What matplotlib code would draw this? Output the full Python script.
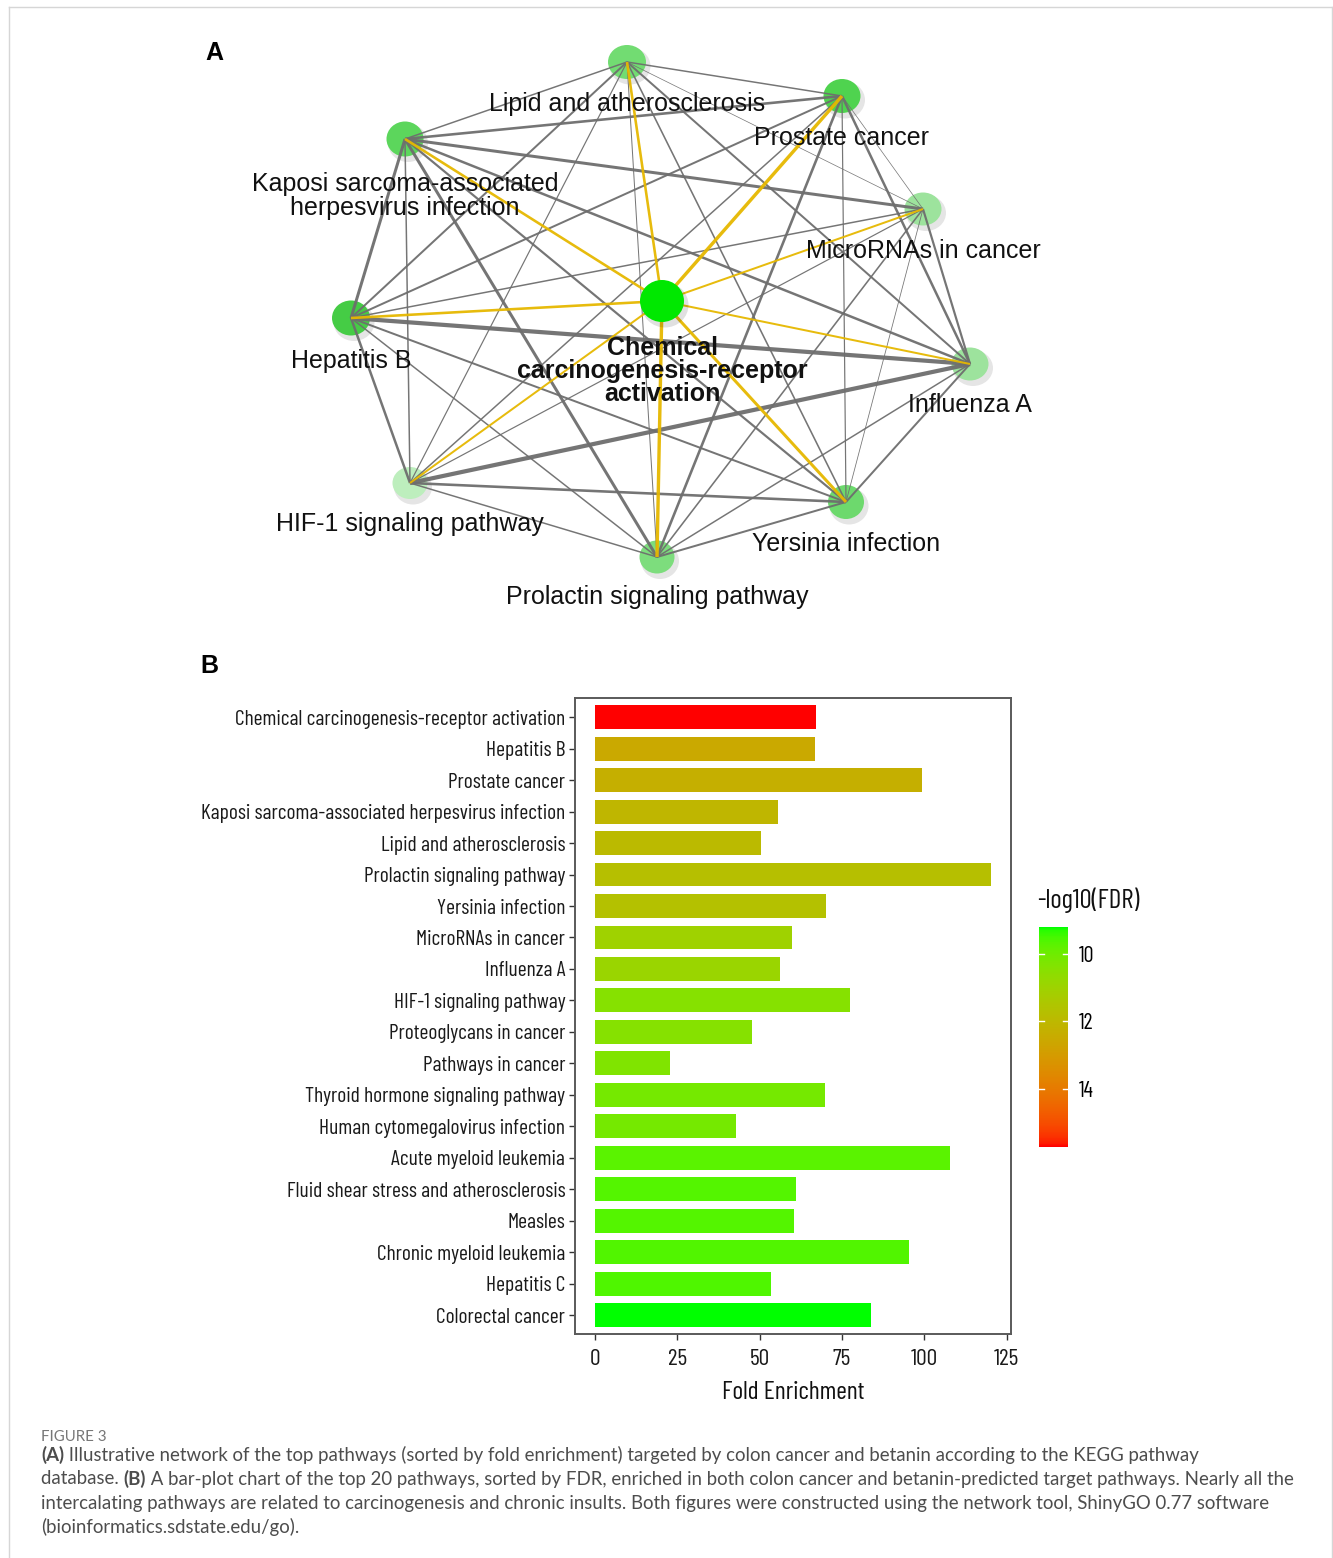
import numpy as np
import matplotlib
matplotlib.use("Agg")
import matplotlib.pyplot as plt
from matplotlib import font_manager as fm
from matplotlib.patches import Ellipse
from matplotlib.colors import ListedColormap, Normalize
from matplotlib.cm import ScalarMappable

# ---------------- data ----------------
pathways = [
    "Chemical carcinogenesis-receptor activation", "Hepatitis B", "Prostate cancer",
    "Kaposi sarcoma-associated herpesvirus infection", "Lipid and atherosclerosis",
    "Prolactin signaling pathway", "Yersinia infection", "MicroRNAs in cancer",
    "Influenza A", "HIF-1 signaling pathway", "Proteoglycans in cancer",
    "Pathways in cancer", "Thyroid hormone signaling pathway",
    "Human cytomegalovirus infection", "Acute myeloid leukemia",
    "Fluid shear stress and atherosclerosis", "Measles", "Chronic myeloid leukemia",
    "Hepatitis C", "Colorectal cancer",
]
fold_enrichment = [67.2, 66.8, 99.2, 55.7, 50.5, 120.2, 70.2, 59.8, 56.3, 77.3,
                   47.6, 22.7, 69.8, 42.8, 107.7, 61.0, 60.5, 95.2, 53.6, 83.9]
neg_log10_fdr = [15.71, 12.53, 12.33, 12.07, 11.94, 11.75, 11.68, 11.03, 10.90, 10.45,
                 10.44, 10.32, 10.12, 10.11, 9.73, 9.66, 9.65, 9.63, 9.60, 9.21]
x_ticks = [0, 25, 50, 75, 100, 125]
cbar_ticks = [10, 12, 14]

# network nodes (layout in figure pixels)
node_labels = ["Lipid and atherosclerosis", "Prostate cancer",
               "Kaposi sarcoma-associated\nherpesvirus infection", "MicroRNAs in cancer",
               "Chemical\ncarcinogenesis-receptor\nactivation", "Hepatitis B", "Influenza A",
               "HIF-1 signaling pathway", "Yersinia infection", "Prolactin signaling pathway"]
node_x = [627, 842, 405, 923, 662, 351, 970, 410, 846, 657]
node_y = [62, 96, 139, 209, 301, 318, 364, 483, 502, 557]
node_w = [38, 37, 37, 37, 44, 38, 37, 35, 36, 35]
node_h = [34, 34, 35, 33, 42, 35, 33, 32, 34, 33]
node_fill = ["#72DC72", "#4FD34F", "#5CD65C", "#9DE39D", "#00E800", "#45CC45",
             "#9DE39D", "#BDEEBD", "#6DD96D", "#7DDD7D"]
label_dy = [42, 42, 57, 42, 70, 43, 41, 41, 42, 40]
hub = 4
# edges: (node a, node b, width in px)
edges = [
    (0, 1, 1.5), (0, 2, 1.5), (0, 3, 0.7), (0, 5, 2.0), (0, 6, 2.0), (0, 7, 1.2),
    (0, 8, 1.6), (0, 9, 1.0), (1, 2, 2.6), (1, 3, 0.7), (1, 5, 2.0), (1, 6, 2.5),
    (1, 7, 1.5), (1, 8, 1.2), (1, 9, 2.6), (2, 3, 3.0), (2, 5, 3.0), (2, 6, 2.5),
    (2, 7, 1.5), (2, 8, 2.2), (2, 9, 3.0), (3, 5, 1.5), (3, 6, 2.2), (3, 7, 1.2),
    (3, 8, 0.8), (3, 9, 1.6), (5, 6, 4.2), (5, 7, 2.5), (5, 8, 2.0), (5, 9, 1.5),
    (6, 7, 4.2), (6, 8, 2.0), (6, 9, 1.5), (7, 8, 2.6), (7, 9, 1.5), (8, 9, 2.0),
    (4, 0, 2.6), (4, 1, 3.4), (4, 2, 2.6), (4, 3, 2.0), (4, 5, 2.6), (4, 6, 2.0),
    (4, 7, 2.0), (4, 8, 3.0), (4, 9, 3.4),
]

W, H = 1333, 1558

# pick a narrow sans face for the bar chart, if one is installed
_installed = {f.name for f in fm.fontManager.ttflist}
_narrow_pick = None
for _fam in ["Barlow Condensed", "Roboto Condensed", "Archivo Narrow", "Asap Condensed"]:
    if _fam in _installed:
        _narrow_pick = _fam
        break
NARROW = [_narrow_pick, "DejaVu Sans"] if _narrow_pick else ["DejaVu Sans"]
NARROW_STRETCH = "normal" if _narrow_pick else "condensed"
ARIAL = ["Liberation Sans", "DejaVu Sans"]
CAPTION = ["Lato", "DejaVu Sans"]


# ---------------- red -> green gradient interpolated in CIE Lab ----------------
_M = np.array([[0.4124, 0.3576, 0.1805], [0.2126, 0.7152, 0.0722], [0.0193, 0.1192, 0.9505]])
_WHITE = np.array([0.95047, 1.0, 1.08883])


def srgb_to_lab(rgb):
    rgb = np.asarray(rgb, float)
    lin = np.where(rgb <= 0.04045, rgb / 12.92, ((rgb + 0.055) / 1.055) ** 2.4)
    xyz = lin @ _M.T / _WHITE
    f = np.where(xyz > 0.008856, np.cbrt(xyz), 7.787 * xyz + 16 / 116)
    return np.stack([116 * f[..., 1] - 16, 500 * (f[..., 0] - f[..., 1]),
                     200 * (f[..., 1] - f[..., 2])], -1)


def lab_to_srgb(lab):
    fy = (lab[..., 0] + 16) / 116
    fx = fy + lab[..., 1] / 500
    fz = fy - lab[..., 2] / 200
    f = np.stack([fx, fy, fz], -1)
    xyz = np.where(f ** 3 > 0.008856, f ** 3, (f - 16 / 116) / 7.787) * _WHITE
    lin = np.clip(xyz @ np.linalg.inv(_M).T, 0, 1)
    srgb = np.where(lin <= 0.0031308, 12.92 * lin, 1.055 * lin ** (1 / 2.4) - 0.055)
    return np.clip(srgb, 0, 1)


lab_lo = srgb_to_lab([0.0, 1.0, 0.0])
lab_hi = srgb_to_lab([1.0, 0.0, 0.0])
tt = np.linspace(0, 1, 256)[:, None]
cmap = ListedColormap(lab_to_srgb(lab_lo + tt * (lab_hi - lab_lo)))
norm = Normalize(vmin=min(neg_log10_fdr), vmax=max(neg_log10_fdr))


def px_box(x0, y0, x1, y1):
    return [x0 / W, 1 - y1 / H, (x1 - x0) / W, (y1 - y0) / H]


fig = plt.figure(figsize=(W / 100, H / 100), dpi=100)
fig.patch.set_facecolor("white")

canvas = fig.add_axes([0, 0, 1, 1])
canvas.set_xlim(0, W)
canvas.set_ylim(H, 0)
canvas.axis("off")

# page frame
frame_kw = dict(color="#d6d6d6", lw=1.0)
canvas.plot([9, 9], [H, 7], **frame_kw)
canvas.plot([9, 1332], [7, 7], **frame_kw)
canvas.plot([1332, 1332], [7, H], **frame_kw)

# ---------------- panel A: pathway network ----------------
canvas.text(214, 53, "A", fontsize=18, fontweight="bold", family=ARIAL, ha="center", va="center")

for i in range(len(node_x)):
    if i == hub:
        continue
    canvas.add_patch(Ellipse((node_x[i] + 3, node_y[i] + 4), node_w[i] + 3, node_h[i] + 3,
                             facecolor="black", alpha=0.10, edgecolor="none", zorder=1))
    canvas.add_patch(Ellipse((node_x[i], node_y[i]), node_w[i], node_h[i],
                             facecolor=node_fill[i], edgecolor="none", zorder=2))

for a, b, w in edges:
    col = "#E6B800" if hub in (a, b) else "#6E6E6E"
    canvas.plot([node_x[a], node_x[b]], [node_y[a], node_y[b]], color=col,
                lw=w * 0.72, alpha=0.95, solid_capstyle="butt", zorder=3)

canvas.add_patch(Ellipse((node_x[hub] + 3, node_y[hub] + 4), node_w[hub] + 3, node_h[hub] + 3,
                         facecolor="black", alpha=0.12, edgecolor="none", zorder=4))
canvas.add_patch(Ellipse((node_x[hub], node_y[hub]), node_w[hub], node_h[hub],
                         facecolor=node_fill[hub], edgecolor="none", zorder=5))

for i, lab in enumerate(node_labels):
    canvas.text(node_x[i], node_y[i] + label_dy[i], lab, fontsize=18, family=ARIAL,
                fontweight="bold" if i == hub else "normal", color="#111111",
                ha="center", va="center", linespacing=0.95, zorder=6)

# ---------------- panel B: bar chart ----------------
canvas.text(209, 666, "B", fontsize=18, fontweight="bold", family=ARIAL, ha="center", va="center")

nkw = dict(family=NARROW, fontstretch=NARROW_STRETCH)
ax = fig.add_axes(px_box(575, 698.3, 1010.7, 1334))
ypos = np.arange(len(pathways))
ax.barh(ypos, fold_enrichment, height=0.76, color=cmap(norm(np.array(neg_log10_fdr))),
        edgecolor="none", zorder=2)
ax.set_xlim(-6.01, 126.2)
ax.set_ylim(len(pathways) - 0.4, -0.6)
ax.set_yticks(ypos)
ax.set_yticklabels(pathways, fontsize=15.5, color="#1a1a1a", **nkw)
ax.set_xticks(x_ticks)
ax.set_xticklabels([str(t) for t in x_ticks], fontsize=17, color="#1a1a1a", **nkw)
ax.tick_params(axis="both", length=4, width=1, color="#333333", pad=3)
ax.tick_params(axis="x", pad=7)
for sp in ax.spines.values():
    sp.set_color("#5a5a5a")
    sp.set_linewidth(1.4)
ax.set_xlabel("Fold Enrichment", fontsize=18.5, color="#111111", labelpad=8, **nkw)

# colour bar
cax = fig.add_axes(px_box(1039, 927, 1068, 1147))
cb = fig.colorbar(ScalarMappable(norm=norm, cmap=cmap), cax=cax)
cb.outline.set_visible(False)
cax.invert_yaxis()
cax.set_yticks(cbar_ticks)
cax.set_yticklabels([str(t) for t in cbar_ticks], fontsize=16, **nkw)
cax.tick_params(axis="y", length=0, pad=8)
for v in cbar_ticks:
    cax.plot([0, 0.18], [v, v], color="white", lw=1, transform=cax.get_yaxis_transform())
    cax.plot([0.82, 1.0], [v, v], color="white", lw=1, transform=cax.get_yaxis_transform())
canvas.text(1037, 900, "-log10(FDR)", fontsize=19.5, ha="left", va="center",
            color="#111111", **nkw)

# ---------------- caption ----------------
renderer = fig.canvas.get_renderer()


def text_runs(x, y, runs, **kw):
    for s, weight in runs:
        t = canvas.text(x, y, s, fontweight=weight, **kw)
        x += t.get_window_extent(renderer).width


cap_kw = dict(family=CAPTION, fontsize=13.4, color="#4d4d4d", va="center", ha="left")
canvas.text(41, 1437, "FIGURE 3", family=CAPTION, fontsize=10.8, color="#777777",
            va="center", ha="left")
text_runs(41, 1455, [("(A)", "bold"),
                     (" Illustrative network of the top pathways (sorted by fold enrichment) "
                      "targeted by colon cancer and betanin according to the KEGG pathway", "normal")],
          **cap_kw)
text_runs(41, 1479, [("database. ", "normal"), ("(B)", "bold"),
                     (" A bar-plot chart of the top 20 pathways, sorted by FDR, enriched in both "
                      "colon cancer and betanin-predicted target pathways. Nearly all the", "normal")],
          **cap_kw)
text_runs(41, 1503, [("intercalating pathways are related to carcinogenesis and chronic insults. "
                      "Both figures were constructed using the network tool, ShinyGO 0.77 software",
                      "normal")], **cap_kw)
text_runs(41, 1527, [("(bioinformatics.sdstate.edu/go).", "normal")], **cap_kw)

fig.savefig("out.png", dpi=100, facecolor="white")
